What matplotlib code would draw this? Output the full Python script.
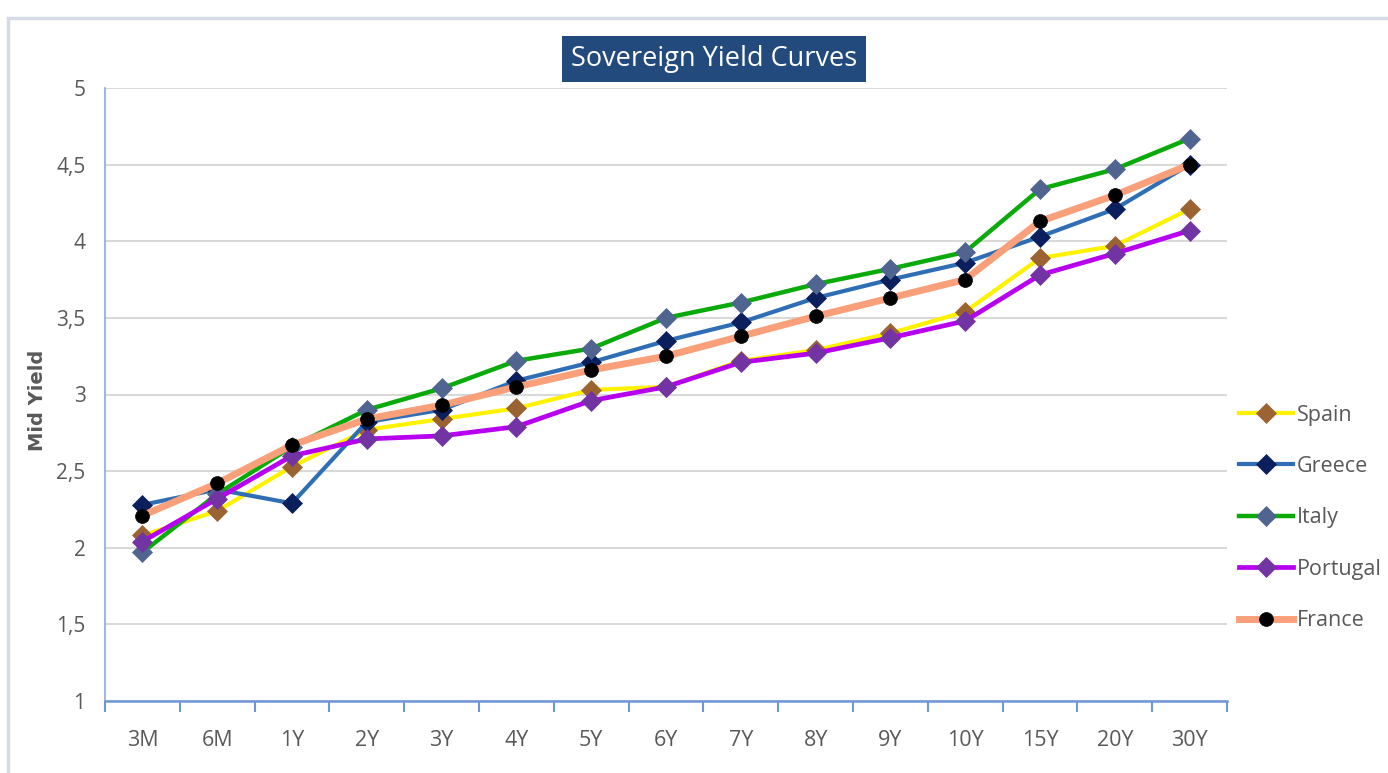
import numpy as np
import matplotlib.pyplot as plt
from matplotlib.patches import Rectangle

tenors = ['3M', '6M', '1Y', '2Y', '3Y', '4Y', '5Y', '6Y', '7Y', '8Y', '9Y', '10Y', '15Y', '20Y', '30Y']

spain = [2.08, 2.24, 2.53, 2.77, 2.84, 2.91, 3.03, 3.05, 3.22, 3.29, 3.40, 3.54, 3.89, 3.97, 4.21]
greece = [2.28, 2.38, 2.29, 2.82, 2.90, 3.09, 3.21, 3.35, 3.47, 3.63, 3.75, 3.86, 4.03, 4.21, 4.50]
italy = [1.97, 2.35, 2.66, 2.90, 3.04, 3.22, 3.30, 3.50, 3.60, 3.72, 3.82, 3.93, 4.34, 4.47, 4.67]
portugal = [2.04, 2.32, 2.60, 2.71, 2.73, 2.79, 2.96, 3.05, 3.21, 3.27, 3.37, 3.48, 3.78, 3.92, 4.07]
france = [2.21, 2.42, 2.67, 2.84, 2.93, 3.05, 3.16, 3.25, 3.38, 3.51, 3.63, 3.75, 4.13, 4.30, 4.50]

series = [
    ('Spain', spain, '#FFF200', 3.0, 'D', '#9C6332'),
    ('Greece', greece, '#2F6EB5', 3.0, 'D', '#0A1F5C'),
    ('Italy', italy, '#0AAA0A', 3.2, 'D', '#506490'),
    ('Portugal', portugal, '#B800F0', 3.4, 'D', '#7234A3'),
    ('France', france, '#F9A07A', 5.0, 'o', '#000000'),
]

grey = '#595959'
fig = plt.figure(figsize=(13.88, 7.73), dpi=100)

# outer chart frame
fig.patches.append(Rectangle((8 / 1388, -0.1), 1.2, 1 - 18 / 773 + 0.1,
                             transform=fig.transFigure, fill=False,
                             edgecolor='#D5DBE6', linewidth=2.5))

ax = fig.add_axes([105 / 1388, 1 - 701 / 773, (1227 - 105) / 1388, (701 - 88) / 773])
x = np.arange(len(tenors))
for name, vals, lc, lw, mk, mc in series:
    ax.plot(x, vals, color=lc, linewidth=lw, marker=mk, markersize=10,
            markerfacecolor=mc, markeredgecolor=mc, markeredgewidth=0.5, label=name)

ax.set_xlim(-0.5, len(tenors) - 0.5)
ax.set_ylim(1, 5)
ax.set_yticks(np.arange(1, 5.01, 0.5))
ax.set_yticklabels([('%g' % v).replace('.', ',') for v in np.arange(1, 5.01, 0.5)])
ax.set_xticks(np.arange(-0.5, len(tenors), 1.0))
ax.set_xticklabels([])
ax.set_xticks(x, minor=True)
ax.set_xticklabels(tenors, minor=True)
ax.tick_params(axis='x', which='major', length=8, width=1.5, color='#6F97D6', direction='out')
ax.tick_params(axis='x', which='minor', length=0, pad=21, labelsize=15.5, labelcolor=grey)
ax.tick_params(axis='y', length=0, pad=14, labelsize=15, labelcolor=grey)
for lab in ax.get_xticklabels(minor=True) + ax.get_yticklabels():
    lab.set_family('Open Sans')

ax.grid(axis='y', color='#D9D9D9', linewidth=1.5)
ax.set_axisbelow(True)
for s in ['top', 'right']:
    ax.spines[s].set_visible(False)
ax.spines['left'].set_color('#8EAADB')
ax.spines['left'].set_linewidth(1.2)
ax.spines['bottom'].set_color('#6F97D6')
ax.spines['bottom'].set_linewidth(1.8)

ax.set_ylabel('Mid Yield', fontsize=14, fontweight='bold', color=grey)
ax.yaxis.set_label_coords(-0.052, 0.49)

fig.text(714 / 1388, 1 - 59 / 773, 'Sovereign Yield Curves', ha='center', va='center',
         fontsize=19.5, color='white', family='Open Sans',
         bbox=dict(boxstyle='square,pad=0.32', facecolor='#234A7C', edgecolor='none'))

leg = ax.legend(loc='upper left', bbox_to_anchor=(0.997, 0.508), frameon=False,
                fontsize=15.5, handlelength=2.5, handletextpad=0.2, labelspacing=1.41,
                borderaxespad=0.3)
for t in leg.get_texts():
    t.set_color(grey)
    t.set_family('Open Sans')

fig.savefig('out.png', dpi=100)
